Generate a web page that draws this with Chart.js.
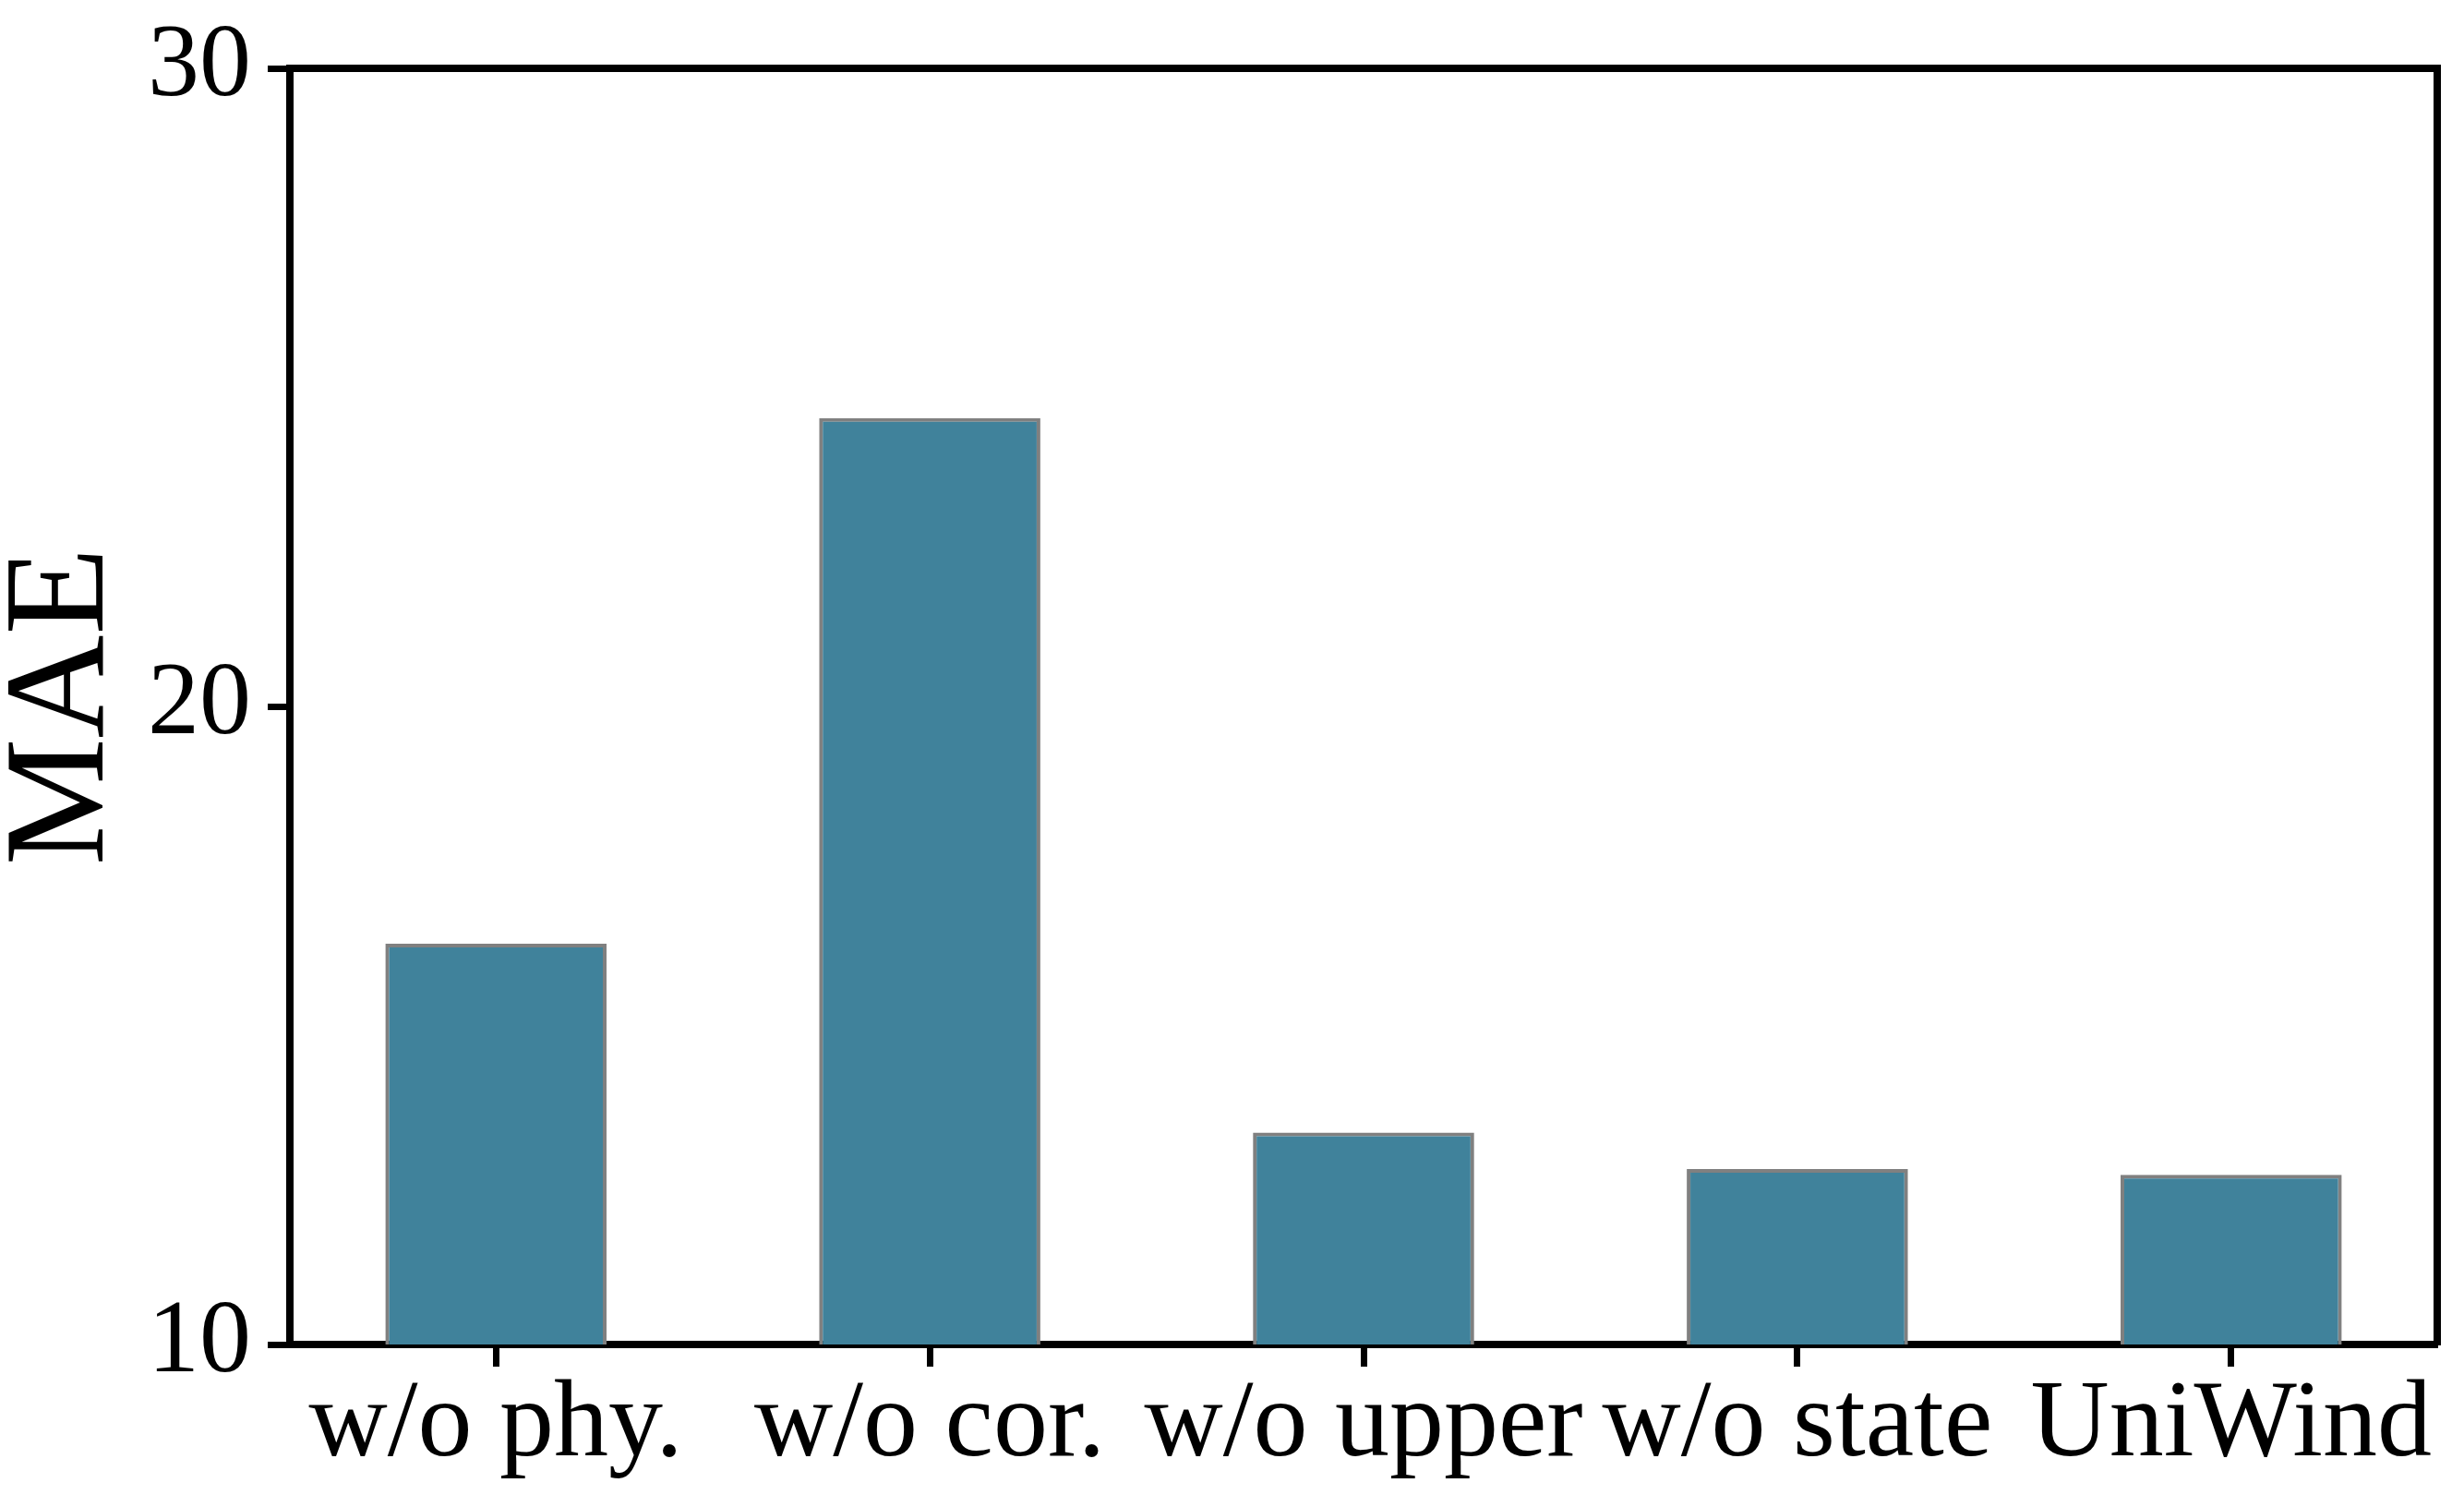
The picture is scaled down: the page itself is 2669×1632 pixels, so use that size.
<!DOCTYPE html>
<html lang="en">
<head>
    <meta charset="UTF-8">
    <title>MAE ablation</title>
    <script src="https://cdn.jsdelivr.net/npm/chart.js"></script>
    <style>
        body { margin: 0; background: #ffffff; }
        #wrap { width: 2669px; height: 1632px; }
    </style>
</head>
<body>
    <div id="wrap">
        <canvas id="maeChart" width="2669" height="1632"></canvas>
    </div>

    <script>
        // data
        const categories = ['w/o phy.', 'w/o cor.', 'w/o upper', 'w/o state', 'UniWind'];
        const maeValues = [16.28, 24.52, 13.32, 12.75, 12.66];
        const yTicks = [10, 20, 30];

        const serif = '"Liberation Serif", "Times New Roman", serif';
        const axisWidth = 8;

        const points = categories.map((c, i) => ({ x: i, y: maeValues[i] }));

        // plain frame axes (top / right), no ticks
        function frameAxis(position) {
            return {
                type: 'linear',
                position: position,
                display: true,
                min: 0,
                max: 1,
                ticks: { display: false },
                grid: { display: false, drawTicks: false },
                border: { display: true, color: '#000000', width: axisWidth },
                afterFit: function(scale) {
                    if (position === 'top') scale.height = 0;
                    else scale.width = 0;
                }
            };
        }

        const ctx = document.getElementById('maeChart').getContext('2d');
        const chart = new Chart(ctx, {
            type: 'bar',
            data: {
                datasets: [{
                    label: 'MAE',
                    data: points,
                    backgroundColor: '#40829b',
                    borderColor: '#808080',
                    borderWidth: 4,
                    borderSkipped: false,
                    categoryPercentage: 1.0,
                    barPercentage: 0.51
                }]
            },
            options: {
                responsive: false,
                animation: false,
                devicePixelRatio: 1,
                layout: { padding: { top: 70, right: 29, left: 0, bottom: 0 } },
                plugins: {
                    legend: { display: false },
                    tooltip: { enabled: false }
                },
                scales: {
                    x: {
                        type: 'linear',
                        position: 'bottom',
                        offset: false,
                        min: -0.475,
                        max: 4.475,
                        afterBuildTicks: function(scale) {
                            scale.ticks = categories.map((c, i) => ({ value: i }));
                        },
                        ticks: {
                            autoSkip: false,
                            maxRotation: 0,
                            includeBounds: false,
                            color: '#000000',
                            padding: 6,
                            font: { family: serif, size: 118, lineHeight: 1 },
                            callback: function(value) { return categories[value]; }
                        },
                        grid: {
                            offset: false,
                            drawOnChartArea: false,
                            drawTicks: true,
                            tickLength: 24,
                            tickWidth: 7,
                            tickColor: '#000000'
                        },
                        border: { display: true, color: '#000000', width: axisWidth },
                        afterFit: function(scale) { scale.height = 1632 - 1456; }
                    },
                    y: {
                        type: 'linear',
                        position: 'left',
                        min: 10,
                        max: 30,
                        afterBuildTicks: function(scale) {
                            scale.ticks = yTicks.map(v => ({ value: v }));
                        },
                        ticks: {
                            color: '#000000',
                            padding: 18,
                            font: { family: serif, size: 112, lineHeight: 1 }
                        },
                        grid: {
                            drawOnChartArea: false,
                            drawTicks: true,
                            tickLength: 24,
                            tickWidth: 7,
                            tickColor: '#000000'
                        },
                        border: { display: true, color: '#000000', width: axisWidth },
                        title: {
                            display: true,
                            text: 'MAE',
                            color: '#000000',
                            font: { family: serif, size: 155, lineHeight: 0.8 },
                            padding: { top: 8, bottom: 0 }
                        },
                        afterFit: function(scale) { scale.width = 314; }
                    },
                    xTop: frameAxis('top'),
                    yRight: frameAxis('right')
                }
            }
        });
    </script>
</body>
</html>
